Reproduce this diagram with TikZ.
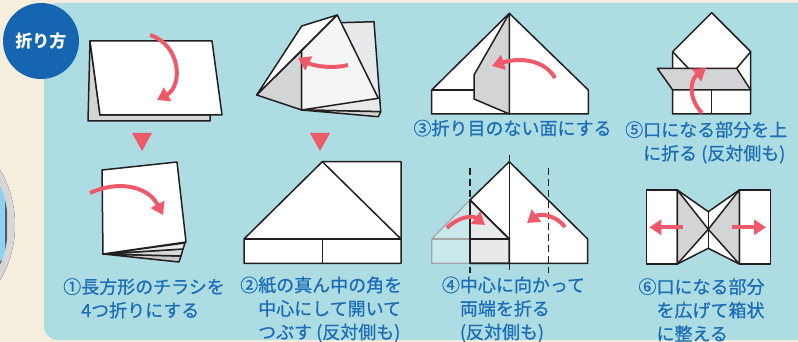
\documentclass[tikz,border=0pt]{standalone}
\usepackage{fontspec}
\newfontfamily\jpfont{Noto Sans CJK JP}
\newfontfamily\jpcap{Noto Sans CJK JP}[FakeBold=0.7]
\usetikzlibrary{arrows.meta}

\definecolor{cream}{HTML}{F6EEDC}
\definecolor{panel}{HTML}{ADDDE2}
\definecolor{badge}{HTML}{1565B0}
\definecolor{capblue}{HTML}{1C6DB6}
\definecolor{arrowred}{HTML}{EF5A6B}
\definecolor{ink}{HTML}{231F20}
\definecolor{shade}{HTML}{D3D4D6}
\definecolor{paleshade}{HTML}{E8E9EB}
\definecolor{lensblue}{HTML}{8CD2F2}

\begin{document}
\begin{tikzpicture}[
  x=1pt, y=-1pt,
  fold/.style={draw=ink, line width=1.5pt, line join=round},
  sheet/.style={fold, fill=white},
  flap/.style={fold, fill=shade},
  paleflap/.style={fold, fill=paleshade},
  crease/.style={draw=ink, line width=1.4pt, dash pattern=on 7pt off 4pt},
  foldarrow/.style={draw=arrowred, line width=4pt, -{Triangle[length=12pt,width=15pt]}},
  downtri/.style={fill=arrowred},
  steptext/.style={text=capblue, font=\jpcap\fontsize{18}{23.5}\selectfont,
    align=left, anchor=base west, inner sep=0pt}
]
\useasboundingbox (0,0) rectangle (798,342);
\fill[cream] (0,0) rectangle (798,342);

% lens at the left edge
\begin{scope}
  \clip (0,0) rectangle (798,342);
  \fill[left color=gray!75, right color=gray!30] (-95,225) circle (110pt);
  \begin{scope}
    \clip (-95,225) circle (103pt);
    \fill[lensblue] (-120,100) -- (6,100) -- (6,257) -- (-120,384) -- cycle;
    \draw[gray!70!black, line width=2pt] (6,170) -- (6,257) -- (-10,273);
  \end{scope}
\end{scope}

\fill[panel, rounded corners=14pt] (44,3) rectangle (820,340);

\node[
    circle,
    fill=badge,
    minimum size=76pt,
    text=white,
    font=\jpfont\bfseries\fontsize{17}{17}\selectfont
  ] (T) at (41,41) {折り方};

% step 1
\filldraw[flap] (90,41) -- (88,121) -- (210,121) -- (210,115) -- (100,115) -- cycle;
\filldraw[sheet] (90,41) -- (212,41) -- (222,115) -- (100,115) -- cycle;
\draw[foldarrow] (150,35) .. controls (181,45) and (183,86) .. (157,100);
\fill[downtri] (132,133) -- (152,133) -- (142,151) -- cycle;

\filldraw[fold, fill=gray!45] (103,254) -- (181,256) -- (179,262) -- cycle;
\filldraw[fold, fill=gray!30] (103,254) -- (183,249) -- (181,256) -- cycle;
\filldraw[fold, fill=gray!15] (103,254) -- (185,243) -- (183,249) -- cycle;
\filldraw[sheet] (102,170) -- (177,162) -- (186,242) -- (103,254) -- cycle;
\draw[foldarrow] (90,193) .. controls (118,180) and (148,186) .. (163,215);

% captions sit on the baseline of their last line
\node[steptext] (C1) at (63,317) {①長方形のチラシを\\\hspace*{1em}4つ折りにする};

% step 2
\filldraw[paleflap] (330,23) -- (374,21.7) -- (380.7,111.7) -- (301.7,110) -- cycle;
\filldraw[fold, fill=shade] (301.7,110) -- (380.7,111.7) -- (378.3,116.7) -- cycle;
\filldraw[sheet] (301.7,26) -- (337.3,15) -- (256.7,95) -- cycle;
\filldraw[flap] (256.7,95) -- (301.7,50.6) -- (301.7,110) -- cycle;
\filldraw[fold, fill=gray!8] (337.3,15) -- (378.3,98.3) -- (301.7,110) -- (301.7,50.6) -- cycle;
\draw[foldarrow] (348,65) .. controls (332,69) and (314,66) .. (298,58);
\fill[downtri] (310,133) -- (330,133) -- (320,151) -- cycle;

\filldraw[sheet] (244,239) -- (322.3,161.7) -- (401,161.7) -- (401,263.3) -- (244,263.3) -- cycle;
\draw[fold] (322.3,161.7) -- (401,239);
\draw[fold] (244,239) -- (401,239);
\draw[fold] (322.3,239) -- (322.3,263.3);

\node[steptext] (C2) at (240,338.8) {②紙の真ん中の角を\\\hspace*{1em}中心にして開いて\\\hspace*{1em}つぶす (反対側も)};

% step 3
\filldraw[sheet] (509.3,13.3) -- (588.3,90) -- (588.3,114) -- (431.7,114) -- (431.7,90) -- cycle;
\draw[fold] (431.7,90) -- (474,90);
\filldraw[flap] (509.3,13.3) -- (474,75) -- (474,99) -- (509.3,114) -- cycle;
\draw[fold] (509.3,13.3) -- (509.3,114);
\draw[foldarrow] (555,78) .. controls (545,60) and (520,57) .. (492,66);

\node[steptext] (C3) at (413.3,135) {③折り目のない面にする};

% step 4
\filldraw[
    draw=gray!70,
    fill=white,
    fill opacity=0.35,
    line width=1.2pt
  ] (470,200) -- (431.7,239) -- (431.7,263.3) -- (470,263.3) -- cycle;
\draw[gray!70, line width=1.2pt] (431.7,239) -- (470,239);
\filldraw[sheet] (509.3,161.7) -- (587.7,239) -- (587.7,263.3) -- (470,263.3) -- (470,200) -- cycle;
\filldraw[paleflap, line width=1.8pt] (470,200) -- (509.3,239) -- (509.3,263.3) -- (470,263.3) -- cycle;
\draw[fold, line width=1.8pt] (470,239) -- (509.3,239);
\draw[ink, line width=1.1pt] (509.3,155) -- (509.3,270);
\draw[crease] (470,168) -- (470,273);
\draw[crease] (548.3,168) -- (548.3,273);
\draw[foldarrow] (447,228) .. controls (458,217) and (472,215) .. (485,225);
\draw[foldarrow] (565,227) .. controls (556,215) and (540,213) .. (527,223);

\node[steptext] (C4) at (441.7,338.8) {④中心に向かって\\\hspace*{1em}両端を折る\\\hspace*{1em}(反対側も)};

% step 5
\filldraw[sheet] (711.7,12.7) -- (750.7,51.7) -- (750.7,114) -- (672.7,114) -- (672.7,51.7) -- cycle;
\draw[fold] (672.7,51.7) -- (688.3,68.3);
\draw[fold] (750.7,51.7) -- (736.7,68.3);
\draw[fold] (711.7,90) -- (711.7,114);
\filldraw[flap] (657.3,68.3) -- (736.7,68.3) -- (750.7,90) -- (672.7,90) -- cycle;
\draw[foldarrow] (702,113) .. controls (688,98) and (690,80) .. (706,68);

\node[steptext] (C5) at (625,160) {⑤口になる部分を上\\\hspace*{1em}に折る (反対側も)};

% step 6
\filldraw[sheet] (646.7,190) rectangle (677.3,264);
\filldraw[sheet] (739.3,190) rectangle (770.7,264);
\filldraw[sheet] (677.3,190) -- (708.3,211.7) -- (739.3,190) -- (739.3,264) -- (708.3,248.3) -- (677.3,264) -- cycle;
\filldraw[flap] (677.3,190) -- (708.3,229.3) -- (677.3,264) -- cycle;
\filldraw[flap] (739.3,190) -- (708.3,229.3) -- (739.3,264) -- cycle;
\draw[fold] (708.3,211.7) -- (708.3,248.3);
\draw[foldarrow] (682.7,227.3) -- (649.3,227.3);
\draw[foldarrow] (731.7,227.3) -- (766,227.3);

\node[steptext] (C6) at (638.3,340.5) {⑥口になる部分\\\hspace*{1em}を広げて箱状\\\hspace*{1em}に整える};

\end{tikzpicture}
\end{document}
